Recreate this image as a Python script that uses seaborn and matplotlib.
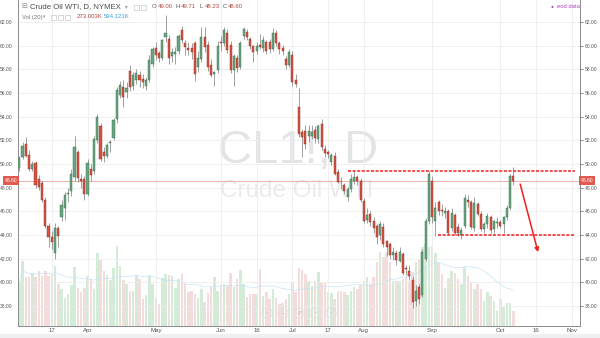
import numpy as np
import pandas as pd
import matplotlib
matplotlib.use("Agg")
import matplotlib.pyplot as plt
from matplotlib.patches import Rectangle
import seaborn as sns

# ---------------- data ----------------
opens = [49.7, 50.6, 51.7, 50.8, 49.6, 50.1, 48.7, 48.4, 47.0, 44.8,
         43.8, 42.5, 44.6, 45.5, 46.3, 47.45, 47.7, 48.9, 51.0, 48.7,
         48.7, 47.5, 49.6, 49.4, 52.0, 53.2, 51.0, 50.7, 51.75, 52.2,
         53.8, 55.8, 56.5, 56.05, 57.9, 56.6, 57.1, 57.5, 57.2, 56.6,
         57.1, 58.5, 59.8, 59.35, 59.0, 60.7, 60.6, 59.1, 59.3, 59.6,
         61.3, 60.2, 59.8, 59.85, 60.2, 58.2, 58.85, 60.7, 60.05, 58.4,
         57.6, 57.95, 60.35, 60.2, 61.05, 60.1, 57.95, 58.95, 58.2, 60.8,
         61.2, 60.55, 59.95, 59.6, 60.1, 59.8, 60.35, 60.3, 59.7, 61.1,
         60.2, 59.8, 58.9, 58.4, 59.2, 57.1, 54.8, 52.7, 52.8, 52.35,
         52.4, 52.9, 52.1, 53.4, 51.3, 51.0, 50.2, 50.7, 49.3, 48.5,
         48.2, 47.2, 47.9, 48.6, 48.9, 48.6, 46.9, 45.3, 45.8, 45.2,
         44.8, 44.0, 44.7, 43.5, 43.2, 42.3, 42.5, 41.8, 42.4, 41.2,
         41.0, 40.2, 38.4, 39.6, 38.9, 42.0, 45.2, 48.6, 45.2, 46.8,
         46.1, 45.9, 46.0, 44.6, 45.7, 44.7, 44.0, 44.8, 47.0, 46.8,
         44.6, 46.6, 45.8, 44.5, 44.9, 45.5, 44.5, 45.0, 45.1, 44.9,
         45.5, 46.3, 49.0]
highs = [50.7, 51.9, 52.3, 51.2, 50.3, 50.3, 49.1, 48.6, 47.2, 45.0,
         44.3, 45.0, 44.8, 47.0, 47.6, 48.0, 49.6, 52.4, 51.2, 49.2,
         49.0, 50.4, 50.0, 52.4, 54.2, 53.5, 51.4, 51.8, 52.0, 53.9,
         56.5, 57.0, 57.1, 56.9, 58.4, 57.8, 58.0, 57.9, 57.6, 57.4,
         59.2, 59.9, 60.3, 59.6, 60.6, 62.6, 60.9, 59.8, 59.9, 61.0,
         61.7, 60.5, 60.3, 60.2, 60.4, 59.6, 61.6, 61.6, 60.4, 58.9,
         57.9, 60.4, 60.8, 61.6, 61.4, 60.4, 59.3, 59.2, 60.4, 61.6,
         61.4, 60.7, 60.1, 60.3, 61.0, 60.8, 60.5, 60.6, 61.5, 61.3,
         60.4, 60.1, 59.1, 59.7, 59.6, 57.6, 56.4, 53.0, 53.3, 53.3,
         53.3, 53.2, 53.4, 53.8, 51.6, 51.2, 50.9, 51.0, 49.6, 48.9,
         48.4, 48.1, 49.2, 49.4, 49.1, 48.8, 47.1, 46.3, 46.0, 45.5,
         44.9, 45.2, 45.0, 43.6, 43.4, 43.0, 42.7, 43.0, 42.6, 41.5,
         41.5, 40.5, 39.8, 39.9, 42.8, 45.4, 49.4, 49.0, 46.8, 47.0,
         46.6, 46.4, 46.2, 46.3, 45.9, 45.0, 44.7, 47.5, 47.4, 47.0,
         47.2, 46.8, 46.0, 45.1, 45.9, 45.7, 45.3, 45.5, 45.3, 45.6,
         46.5, 49.2, 49.71]
lows = [49.4, 50.4, 50.6, 49.4, 49.4, 48.0, 47.8, 46.8, 44.6, 43.0,
        42.8, 42.0, 43.0, 45.2, 45.3, 46.8, 47.3, 48.6, 48.5, 48.0,
        47.0, 47.3, 48.6, 49.2, 51.8, 50.3, 50.2, 50.5, 51.0, 52.0,
        53.5, 55.6, 54.85, 55.6, 56.2, 56.3, 56.8, 56.5, 56.4, 56.3,
        56.9, 58.2, 58.8, 58.6, 58.8, 60.3, 58.5, 58.6, 58.5, 59.3,
        60.2, 59.2, 59.2, 58.9, 57.0, 57.8, 58.6, 59.5, 57.9, 57.4,
        56.6, 57.7, 59.6, 60.0, 59.4, 57.7, 56.6, 57.8, 58.0, 60.6,
        60.5, 59.7, 58.6, 59.3, 59.7, 59.5, 59.3, 59.4, 59.6, 60.0,
        59.3, 59.2, 58.0, 58.2, 56.6, 56.5, 52.3, 50.6, 51.3, 51.9,
        52.1, 51.8, 51.8, 51.2, 50.6, 50.5, 49.9, 49.1, 48.4, 47.9,
        47.5, 46.9, 47.6, 48.3, 48.2, 46.8, 45.0, 45.0, 44.8, 44.2,
        43.2, 43.6, 43.0, 42.2, 42.0, 41.9, 41.5, 41.7, 40.6, 40.6,
        40.2, 37.8, 38.0, 38.2, 38.8, 41.8, 44.9, 45.0, 43.9, 45.7,
        45.6, 45.4, 44.0, 44.3, 44.0, 43.9, 43.7, 44.6, 46.4, 44.5,
        44.3, 45.6, 44.3, 44.2, 44.6, 44.2, 44.2, 44.6, 44.6, 44.2,
        45.3, 46.1, 48.23]
closes = [50.5, 51.5, 50.7, 49.6, 50.0, 48.2, 48.1, 47.0, 44.8, 43.8,
          43.4, 44.6, 43.9, 46.5, 47.4, 47.55, 49.2, 51.4, 48.8, 48.6,
          47.5, 50.1, 49.1, 52.1, 54.0, 50.4, 50.7, 51.6, 51.9, 53.7,
          56.3, 56.7, 55.7, 56.45, 56.5, 57.5, 57.7, 57.1, 56.9, 57.1,
          58.8, 59.7, 59.2, 58.95, 60.5, 61.05, 58.95, 59.45, 59.5, 60.8,
          60.5, 59.9, 59.65, 59.5, 57.6, 58.95, 60.7, 59.9, 58.2, 57.55,
          57.8, 60.0, 60.2, 61.3, 59.65, 57.95, 59.1, 58.1, 60.2, 61.4,
          60.75, 60.0, 59.5, 60.0, 59.9, 60.5, 59.6, 59.7, 61.05, 60.2,
          59.7, 59.6, 58.35, 59.5, 56.95, 56.75, 52.5, 52.3, 51.7, 52.8,
          52.7, 52.2, 53.2, 51.4, 50.9, 50.85, 50.75, 49.2, 48.5, 48.45,
          47.7, 47.9, 48.7, 48.9, 48.6, 47.0, 45.2, 45.7, 45.1, 44.6,
          43.8, 44.95, 43.2, 43.0, 42.3, 42.6, 41.9, 42.6, 40.8, 41.1,
          40.5, 38.3, 39.3, 38.6, 42.6, 45.2, 49.2, 45.5, 46.3, 46.0,
          46.0, 46.05, 44.2, 45.9, 44.2, 44.2, 44.45, 47.1, 46.8, 44.65,
          46.7, 45.8, 44.5, 44.9, 45.6, 44.45, 45.2, 45.1, 44.8, 45.5,
          46.3, 49.0, 48.6]
volumes_k = [450, 650, 490, 490, 530, 490, 550, 500, 550, 500,
             520, 600, 420, 370, 280, 320, 410, 590, 380, 340,
             380, 500, 470, 370, 730, 660, 550, 510, 460, 580,
             800, 600, 460, 420, 350, 350, 510, 470, 270, 310,
             510, 420, 280, 220, 480, 520, 510, 500, 380, 470,
             520, 420, 340, 350, 320, 280, 370, 240, 330, 390,
             490, 350, 410, 420, 400, 530, 390, 470, 560, 420,
             290, 320, 320, 320, 570, 300, 340, 270, 370, 280,
             220, 230, 270, 320, 430, 340, 580, 560, 520, 450,
             400, 450, 540, 430, 430, 340, 330, 270, 350, 350,
             340, 310, 350, 390, 370, 410, 450, 490, 420, 490,
             640, 740, 690, 740, 640, 450, 450, 450, 470, 490,
             450, 540, 640, 660, 790, 820, 790, 800, 730, 630,
             520, 380, 480, 550, 530, 470, 420, 590, 500, 430,
             370, 420, 370, 250, 340, 300, 250, 150, 270, 190,
             230, 230, 150]
date_tick_pos = [10, 21, 42, 62, 73, 84, 95, 106, 127, 148, 159, 170]
date_tick_labels = ["17", "Apr", "May", "Jun", "16", "Jul", "17", "Aug",
                    "Sep", "Oct", "16", "Nov"]
price_ticks = [38, 40, 42, 44, 46, 48, 50, 52, 54, 56, 58, 60, 62]
last_price = 48.60
resistance = 49.45
support = 44.03

# ---------------- styling ----------------
sns.set_theme(style="white")
plt.rcParams["font.family"] = ["Liberation Sans", "DejaVu Sans"]

GREEN = "#6ba583"
RED = "#d75442"
GREEN_E = "#2e6b47"
RED_E = "#8a2a1f"
WICK = "#7a7a7a"
TXT = "#555555"
LINE_RED = "#f0201c"

df = pd.DataFrame({"o": opens, "h": highs, "l": lows, "c": closes,
                   "vol": volumes_k})
df["idx"] = np.arange(len(df))
df["dir"] = np.where(df["c"] >= df["o"], "up", "down")
df["ma"] = df["vol"].rolling(20, min_periods=1).mean()

W, H = 600, 338
fig = plt.figure(figsize=(6, 3.38), dpi=100)
fig.patch.set_facecolor("white")
rect = [18 / W, 12.5 / H, 562 / W, 325.5 / H]
axv = fig.add_axes(rect)
ax = fig.add_axes(rect, sharex=axv)
ax.patch.set_alpha(0)

# ---------------- volume ----------------
sns.barplot(data=df, x="idx", y="vol", hue="dir",
            palette={"up": "#d3ebd7", "down": "#f3dcdc"},
            native_scale=True, dodge=False, width=0.8, errorbar=None,
            saturation=1, legend=False, linewidth=0, ax=axv)
sns.lineplot(x=df["idx"], y=df["ma"], ax=axv, color="#c6e4f6", lw=0.5)
axv.set_ylim(0, 3255)
axv.set_yticks([])
axv.set_xlabel("")
axv.set_ylabel("")
for s in axv.spines.values():
    s.set_visible(False)
axv.tick_params(axis="x", labelbottom=False, length=0)

# ---------------- grid ----------------
ax.set_xlim(-0.4, 172.5)
ax.set_ylim(36.35, 63.87)
ax.set_yticks(price_ticks)
ax.set_yticklabels([f"{p:.2f}" for p in price_ticks])
ax.set_xticks(date_tick_pos)
ax.set_xticklabels(date_tick_labels)
ax.grid(True, color="#ececec", lw=0.6, zorder=0)
ax.set_axisbelow(True)
ax.tick_params(axis="y", left=False, right=True, labelleft=True,
               labelright=True, length=2.5, width=0.5, pad=1.2,
               labelsize=3.6, colors=TXT)
ax.tick_params(axis="x", length=0, pad=1.8, labelsize=4.4, colors=TXT)
for k in ("left", "right", "bottom"):
    ax.spines[k].set_color("#8c8c8c")
    ax.spines[k].set_linewidth(0.7)
ax.spines["top"].set_visible(False)

# ---------------- watermark ----------------
ax.text(0.498, 0.499, "CL1!, D", transform=ax.transAxes, fontsize=34,
        color="#e4e4e4", ha="center", va="baseline", zorder=0.5)
ax.text(0.495, 0.395, "Crude Oil WTI", transform=ax.transAxes, fontsize=17.5,
        color="#ebebeb", ha="center", va="baseline", zorder=0.5)

# ---------------- candles ----------------
ax.vlines(df["idx"], df["l"], df["h"], color=WICK, lw=0.5, zorder=3)
body_lo = np.minimum(df["o"], df["c"])
body_h = np.maximum(np.abs(df["c"] - df["o"]), 0.06)
up = df["dir"] == "up"
ax.bar(df["idx"][up], body_h[up], bottom=body_lo[up], width=0.66,
       color=GREEN, edgecolor=GREEN_E, linewidth=0.3, zorder=4)
ax.bar(df["idx"][~up], body_h[~up], bottom=body_lo[~up], width=0.66,
       color=RED, edgecolor=RED_E, linewidth=0.3, zorder=4)

# ---------------- annotations ----------------
ax.axhline(last_price, color="#eaa39c", lw=0.6, zorder=2)
ax.hlines(resistance, 101.1, 171.0, colors=LINE_RED, lw=1.1,
          linestyles=(0, (2.0, 1.0)), zorder=5)
ax.hlines(support, 128.8, 171.0, colors=LINE_RED, lw=1.1,
          linestyles=(0, (2.0, 1.0)), zorder=5)
ax.annotate("", xy=(159.6, 42.55), xytext=(154.1, 48.3),
            arrowprops=dict(arrowstyle="-|>", color=LINE_RED, lw=1.1,
                            mutation_scale=6, shrinkA=0, shrinkB=0),
            zorder=6)
for xf, ha, dx in ((0.0, "right", -0.5), (1.0, "left", 0.5)):
    ax.annotate(f"{last_price:.2f}", xy=(xf, last_price),
                xycoords=("axes fraction", "data"), xytext=(dx, 0),
                textcoords="offset points", ha=ha, va="center",
                fontsize=3.6, color="white", annotation_clip=False,
                bbox=dict(boxstyle="square,pad=0.35", fc="#df5b4f",
                          ec="none"), zorder=7)

# ---------------- header ----------------
def ftxt(x, y, s, **kw):
    fig.text(x / W, 1 - y / H, s, va="center", **kw)

ftxt(21, 7, "\u229f", fontsize=5, color="#888888")
ftxt(30, 7, "Crude Oil WTI, D, NYMEX", fontsize=5.6, color="#4a4a4a")
ftxt(125, 7, "\u25be", fontsize=4, color="#999999")
for xb in (134, 141):
    fig.patches.append(Rectangle((xb / W, 1 - 10 / H), 5 / W, 5 / H,
                                 transform=fig.transFigure, fill=False,
                                 ec="#c8c8c8", lw=0.5))
x = 152
for lab, val in (("O", "49.00"), ("H", "49.71"), ("L", "48.23"), ("C", "48.60")):
    ftxt(x, 7, lab, fontsize=4.3, color="#555555")
    ftxt(x + 5.5, 7, val, fontsize=4.3, color="#b5483c")
    x += 23.5
ftxt(22, 17, "Vol (20)", fontsize=4.3, color="#777777")
ftxt(43, 17, "\u25be", fontsize=3.5, color="#999999")
for xb in (51, 58, 65):
    fig.patches.append(Rectangle((xb / W, 1 - 20 / H), 5 / W, 5 / H,
                                 transform=fig.transFigure, fill=False,
                                 ec="#c8c8c8", lw=0.5))
ftxt(77, 17, "273.003K", fontsize=4.3, color="#b5483c")
ftxt(104, 17, "594.121K", fontsize=4.3, color="#3d9ee0")
ftxt(551, 7, "\u25cf", fontsize=3.5, color="#ab47bc")
ftxt(557, 7, "eod data", fontsize=4.2, color="#ab47bc")

# navigation buttons
for xb, sym in ((267, "\u2039"), (283, "\u2212"), (299, "\u21ba"),
                (315, "+"), (331, "\u203a")):
    fig.text(xb / W, 1 - 313 / H, sym, ha="center", va="center",
             fontsize=4.2, color="#c4c4c4",
             bbox=dict(boxstyle="circle,pad=0.45", fc="none",
                       ec="#dedede", lw=0.5))

# bottom strip
fig.patches.append(Rectangle((0, 0), 1, 4 / H, transform=fig.transFigure,
                             color="#eef0f4", zorder=0))

fig.savefig("out.png", dpi=100)
